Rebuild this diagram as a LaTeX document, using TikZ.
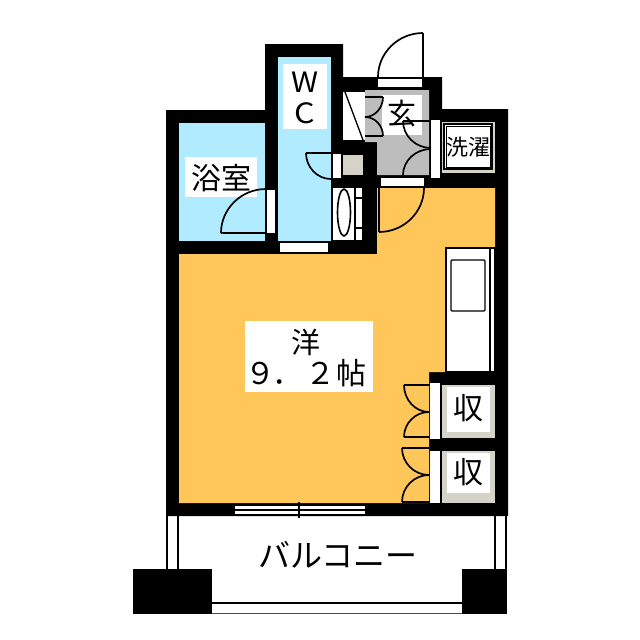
\documentclass[tikz,border=0pt]{standalone}
\usepackage{fontspec}
\usetikzlibrary{calc}
\newfontfamily\jpfont{Noto Sans CJK JP}
\definecolor{roomyellow}{HTML}{FFC65A}
\definecolor{roomblue}{HTML}{B0EBFF}
\definecolor{entrygrey}{HTML}{BDBDBD}
\definecolor{storebeige}{HTML}{D5D2C8}
\newcommand{\qarc}[6]{\draw[doorline] (#1,#2) .. controls ($(#1,#2)!0.55!(#3,#4)$) and ($(#5,#6)!0.55!(#3,#4)$) .. (#5,#6);}
\tikzset{
  x=1pt,y=-1pt,
  doorline/.style={line width=1.7pt,draw=black},
  thinline/.style={line width=1.3pt,draw=black},
  label/.style={font=\jpfont,inner sep=0pt,text=black},
}
\begin{document}
\begin{tikzpicture}
\useasboundingbox (0,0) rectangle (640,640);
\fill[white] (0,0) rectangle (640,640);
% walls
\fill[black] (166,110)--(265,110)--(265,44)--(343,44)--(343,77)--(442,77)--(442,109)--(508,109)--(508,516)--(166,516)--cycle;
% rooms
\fill[roomyellow] (179,254)--(377,254)--(377,188)--(495,188)--(495,372)--(429,372)--(429,503)--(179,503)--cycle;
\fill[roomblue] (179,123) rectangle (265,241);
\fill[roomblue] (278,57) rectangle (331,241);
\fill[entrygrey] (365,90)--(429,90)--(429,175)--(377,175)--(377,142)--(365,142)--cycle;
\fill[white] (343,92) rectangle (365,140);
\draw[thinline] (345,92)--(363,140);
\fill[storebeige] (343,155) rectangle (363,175);
\fill[storebeige] (442,385) rectangle (495,438);
\fill[storebeige] (442,451) rectangle (495,503);
\fill[storebeige] (442,122) rectangle (495,173);
% washer pan
\draw[line width=1.1pt,fill=white] (444,124) rectangle (492,169);
\draw[line width=0.8pt] (446,126) rectangle (490,167);
% door strips
\fill[white] (267,190) rectangle (275,233);
\fill[white] (280,243) rectangle (328,252);
\fill[white] (333,154) rectangle (341,178);
\fill[white] (378,79) rectangle (422,87);
\fill[white] (431,120) rectangle (440,178);
\fill[white] (381,178) rectangle (424,186);
\fill[white] (430,383) rectangle (440,439);
\fill[white] (430,451) rectangle (440,503);
% washstand
\fill[white] (333,188) rectangle (362,240);
\draw[line width=1.6pt] (344,212.5) ellipse [x radius=6.5,y radius=23.5];
\draw[thinline] (355,188)--(355,240);
\draw[thinline] (355,198)--(362,198) (355,228)--(362,228);
% kitchen
\draw[thinline,fill=white] (446,248) rectangle (495,372);
\draw[thinline] (490,248)--(490,372);
\draw[thinline,rounded corners=1pt] (451,260) rectangle (485,311);
% window
\fill[white] (235,506) rectangle (365,514);
\draw[line width=1.4pt] (235,510)--(365,510);
\draw[line width=2pt] (299,502)--(299,518);
% label grounds
\fill[white] (283,64) rectangle (327,129);
\fill[white] (185,157) rectangle (257,197);
\fill[white] (245,321) rectangle (373,392);
\fill[white] (447,387) rectangle (490,432);
\fill[white] (447,453) rectangle (490,493);
\fill[white] (382,95) rectangle (422,135);
% doors
\draw[doorline] (266,233)--(221,233);
\qarc{221}{233}{221}{189}{266}{189}
\draw[doorline] (306,153)--(331,153);
\qarc{306}{153}{306}{179}{331}{179}
\draw[doorline] (423,77)--(423,33);
\qarc{423}{33}{378}{33}{378}{77}
\draw[doorline] (365,97)--(383,97);
\qarc{383}{97}{383}{117}{365}{117}
\draw[doorline] (365,136)--(383,136);
\qarc{383}{136}{383}{117}{365}{117}
\draw[doorline] (431,121)--(403,121);
\qarc{403}{121}{403}{148}{431}{148}
\qarc{431}{149}{403}{149}{403}{175}
\draw[doorline] (379,188)--(379,232);
\qarc{379}{232}{424}{232}{424}{188}
\draw[doorline] (429,385)--(404,385);
\qarc{404}{385}{404}{412}{429}{412}
\qarc{429}{412}{404}{412}{404}{437}
\draw[doorline] (404,437)--(429,437);
\draw[doorline] (429,448)--(402,448);
\qarc{402}{448}{402}{475}{429}{475}
\qarc{429}{475}{402}{475}{402}{502}
\draw[doorline] (402,502)--(429,502);
% balcony
\draw[thinline] (167,516)--(167,570) (178,516)--(178,570);
\draw[thinline] (495,516)--(495,570) (506,516)--(506,570);
\fill[black] (133,569) rectangle (212,614);
\fill[black] (462,569) rectangle (507,614);
\draw[line width=2.2pt] (212,603)--(462,603);
\draw[line width=1pt,draw=black!70] (212,613.5)--(462,613.5);
% labels
\node[label,font=\jpfont\fontsize{28}{28}\selectfont,xscale=1.1] (lbw) at (305,82) {W};
\node[label,font=\jpfont\fontsize{28}{28}\selectfont,xscale=1.15] (lbc) at (305,113) {C};
\node[label,font=\jpfont\fontsize{30}{30}\selectfont] (bath) at (221,178) {浴室};
\node[label,font=\jpfont\fontsize{29}{29}\selectfont] (genkan) at (402,114) {玄};
\node[label,font=\jpfont\fontsize{22}{22}\selectfont] (wash) at (468,147) {洗濯};
\node[label,font=\jpfont\fontsize{29}{29}\selectfont] (yo) at (306,342) {洋};
\node[label,font=\jpfont\fontsize{30}{30}\selectfont] (size) at (306,373) {９\hspace{-3pt}．\hspace{3pt}２\hspace{2pt}帖};
\node[label,font=\jpfont\fontsize{30}{30}\selectfont] (st1) at (468,408) {収};
\node[label,font=\jpfont\fontsize{30}{30}\selectfont] (st2) at (468,472) {収};
\node[label,font=\jpfont\fontsize{32}{32}\selectfont] (balc) at (338,555) {バルコニー};
\end{tikzpicture}
\end{document}
